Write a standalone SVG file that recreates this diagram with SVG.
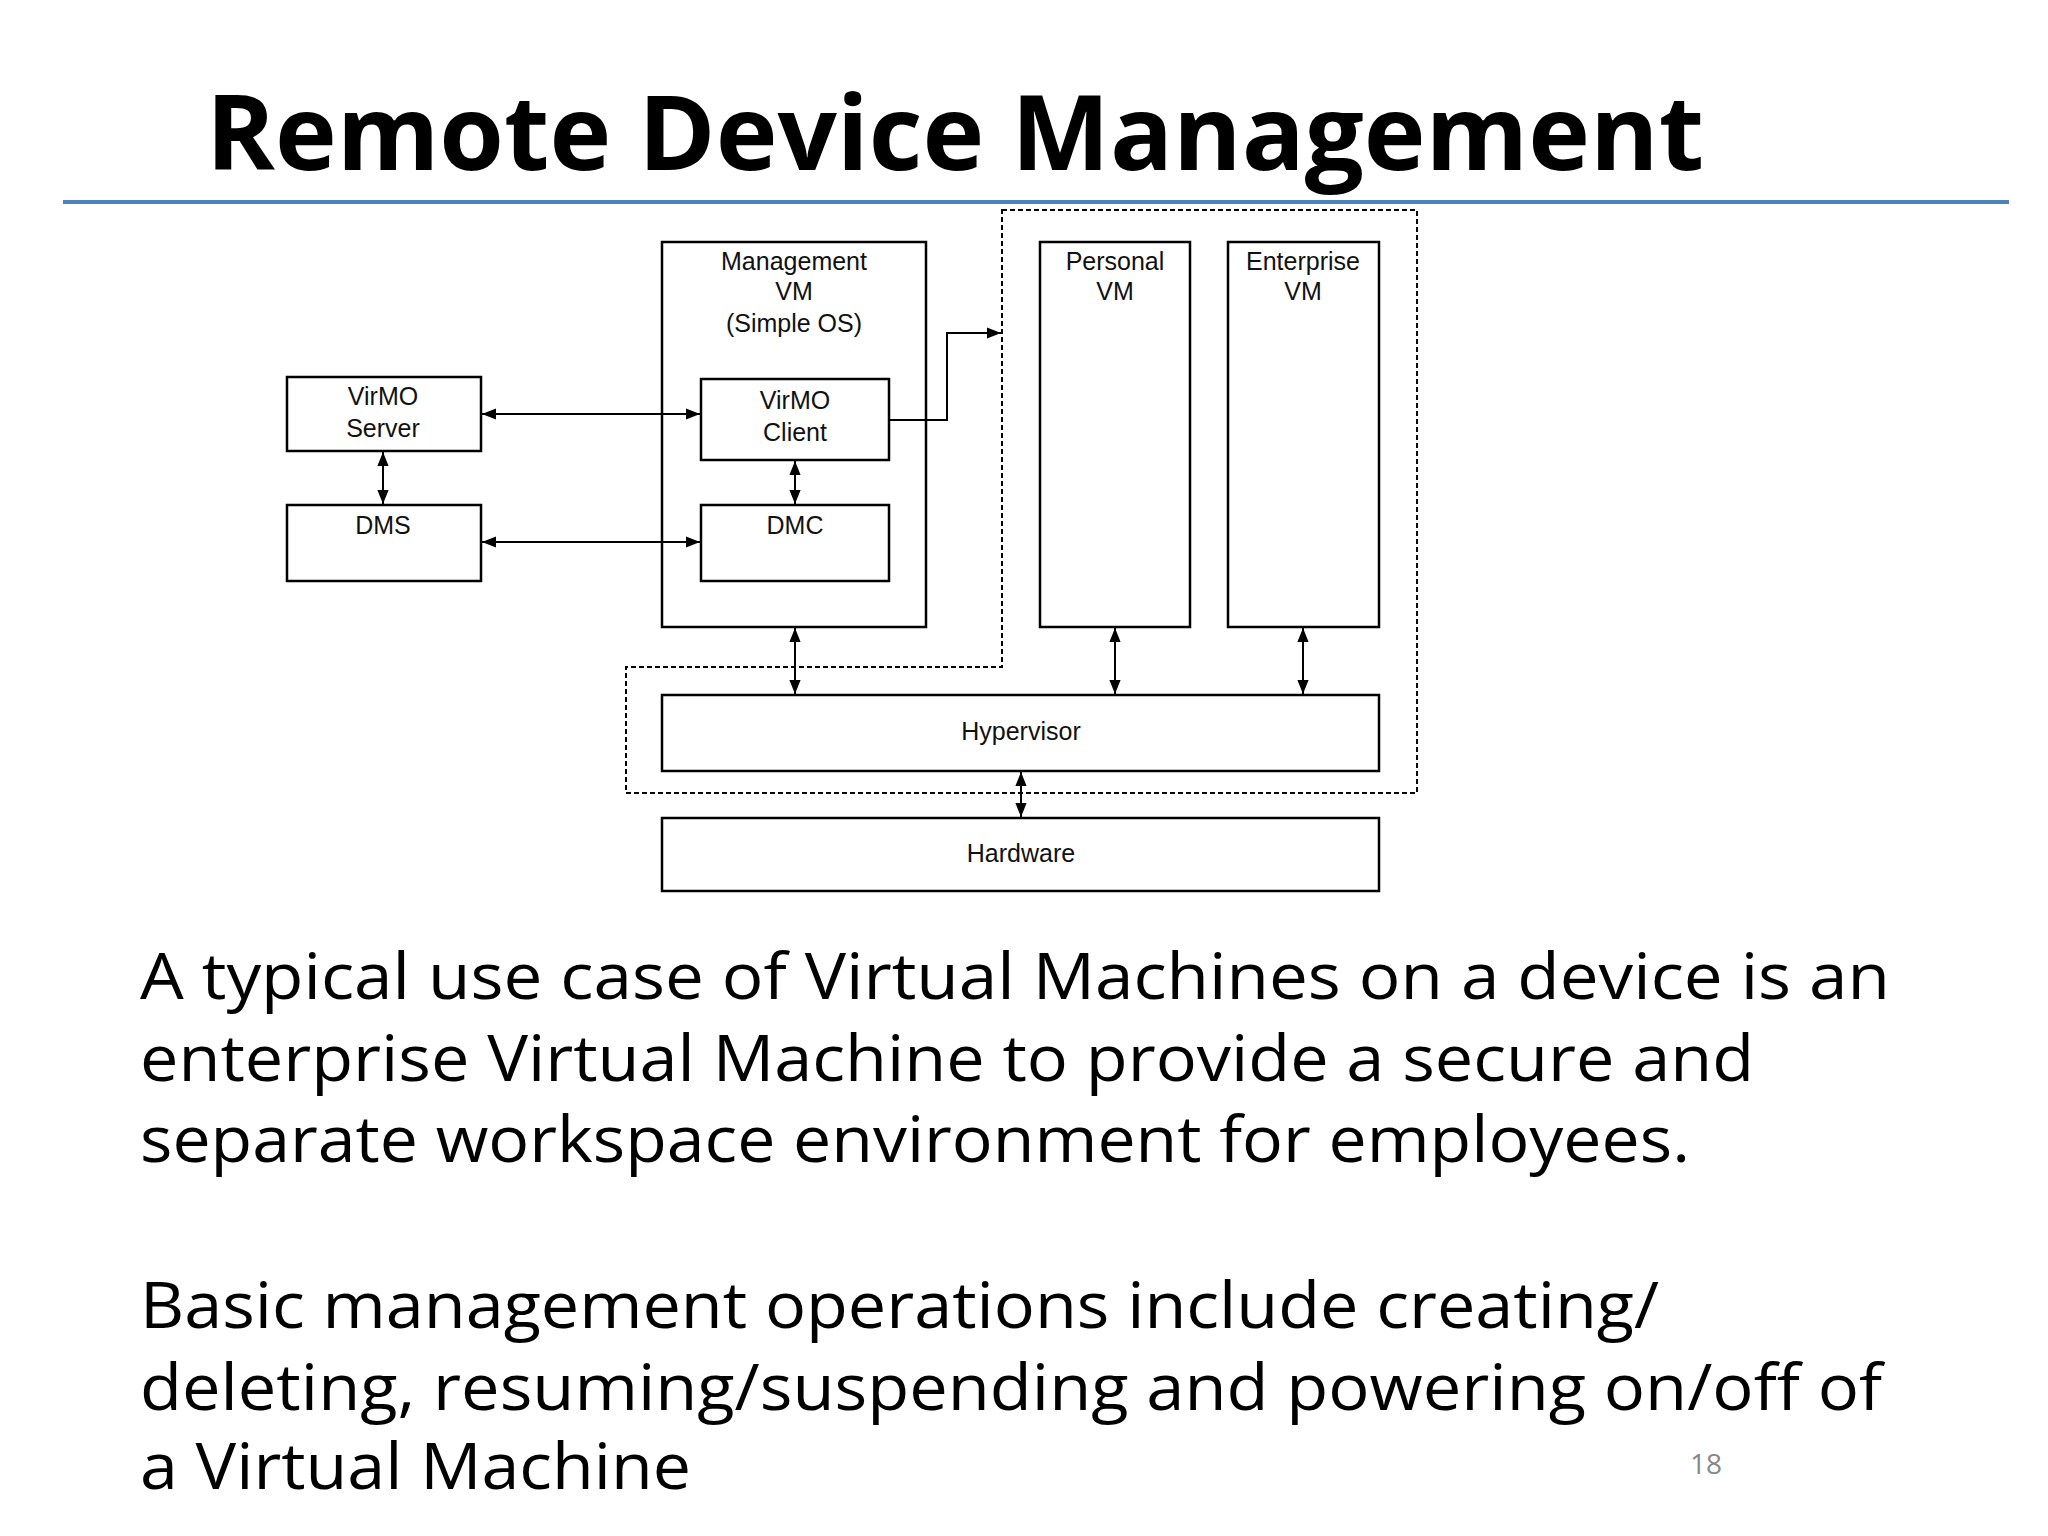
<svg xmlns="http://www.w3.org/2000/svg" width="2048" height="1536" viewBox="0 0 2048 1536">
<defs>
<marker id="a" viewBox="0 0 10 10" refX="10" refY="5" markerWidth="7" markerHeight="7" orient="auto-start-reverse"><path d="M0,1 L10,5 L0,9 z" fill="#000"/></marker>
<style>
.b{fill:#fff;stroke:#000;stroke-width:2.5}
.l{font-family:"Liberation Sans",Arial,sans-serif;font-size:25px;text-anchor:middle;fill:#111}
.c{stroke:#000;stroke-width:2;fill:none}
.t{font-family:"Open Sans","Liberation Sans",sans-serif;font-size:64px;fill:#000}
</style>
</defs>
<rect width="2048" height="1536" fill="#fff"/>
<text x="206" y="170" font-family="'Open Sans','Liberation Sans',sans-serif" font-weight="bold" font-size="104" textLength="1498" lengthAdjust="spacingAndGlyphs">Remote Device Management</text>
<line x1="63" y1="202" x2="2009" y2="202" stroke="#4f81bd" stroke-width="4"/>
<polygon points="1002,210 1417,210 1417,793 626,793 626,667 1002,667" fill="none" stroke="#000" stroke-width="2" stroke-dasharray="5,3"/>
<g id="mgmt"><rect class="b" x="662" y="242" width="264" height="385"/><text class="l" x="794" y="270">Management</text><text class="l" x="794" y="300">VM</text><text class="l" x="794" y="332">(Simple OS)</text></g>
<g id="server"><rect class="b" x="287" y="377" width="194" height="74"/><text class="l" x="383" y="405">VirMO</text><text class="l" x="383" y="437">Server</text></g>
<g id="dms"><rect class="b" x="287" y="505" width="194" height="76"/><text class="l" x="383" y="534">DMS</text></g>
<g id="client"><rect class="b" x="701" y="379" width="188" height="81"/><text class="l" x="795" y="409">VirMO</text><text class="l" x="795" y="441">Client</text></g>
<g id="dmc"><rect class="b" x="701" y="505" width="188" height="76"/><text class="l" x="795" y="534">DMC</text></g>
<g id="personal"><rect class="b" x="1040" y="242" width="150" height="385"/><text class="l" x="1115" y="270">Personal</text><text class="l" x="1115" y="300">VM</text></g>
<g id="enterprise"><rect class="b" x="1228" y="242" width="151" height="385"/><text class="l" x="1303" y="270">Enterprise</text><text class="l" x="1303" y="300">VM</text></g>
<g id="hyp"><rect class="b" x="662" y="695" width="717" height="76"/><text class="l" x="1021" y="740">Hypervisor</text></g>
<g id="hw"><rect class="b" x="662" y="818" width="717" height="73"/><text class="l" x="1021" y="862">Hardware</text></g>
<g id="connectors">
<line class="c" x1="482" y1="414" x2="700" y2="414" marker-start="url(#a)" marker-end="url(#a)"/>
<line class="c" x1="482" y1="542" x2="700" y2="542" marker-start="url(#a)" marker-end="url(#a)"/>
<line class="c" x1="383" y1="452" x2="383" y2="504" marker-start="url(#a)" marker-end="url(#a)"/>
<line class="c" x1="795" y1="461" x2="795" y2="504" marker-start="url(#a)" marker-end="url(#a)"/>
<line class="c" x1="795" y1="628" x2="795" y2="694" marker-start="url(#a)" marker-end="url(#a)"/>
<line class="c" x1="1115" y1="628" x2="1115" y2="694" marker-start="url(#a)" marker-end="url(#a)"/>
<line class="c" x1="1303" y1="628" x2="1303" y2="694" marker-start="url(#a)" marker-end="url(#a)"/>
<line class="c" x1="1021" y1="772" x2="1021" y2="817" marker-start="url(#a)" marker-end="url(#a)"/>
<polyline class="c" points="889,420 947,420 947,333 1001,333" marker-end="url(#a)"/>
</g>
<text class="t" x="140" y="999" textLength="1750" lengthAdjust="spacingAndGlyphs">A typical use case of Virtual Machines on a device is an</text>
<text class="t" x="140" y="1081" textLength="1614" lengthAdjust="spacingAndGlyphs">enterprise Virtual Machine to provide a secure and</text>
<text class="t" x="140" y="1162" textLength="1550" lengthAdjust="spacingAndGlyphs">separate workspace environment for employees.</text>
<text class="t" x="140" y="1328" textLength="1519" lengthAdjust="spacingAndGlyphs">Basic management operations include creating/</text>
<text class="t" x="140" y="1410" textLength="1742" lengthAdjust="spacingAndGlyphs">deleting, resuming/suspending and powering on/off of</text>
<text class="t" x="140" y="1489" textLength="551" lengthAdjust="spacingAndGlyphs">a Virtual Machine</text>
<text x="1706" y="1474" font-family="'Open Sans','Liberation Sans',sans-serif" font-size="28" fill="#888" text-anchor="middle">18</text>
</svg>
